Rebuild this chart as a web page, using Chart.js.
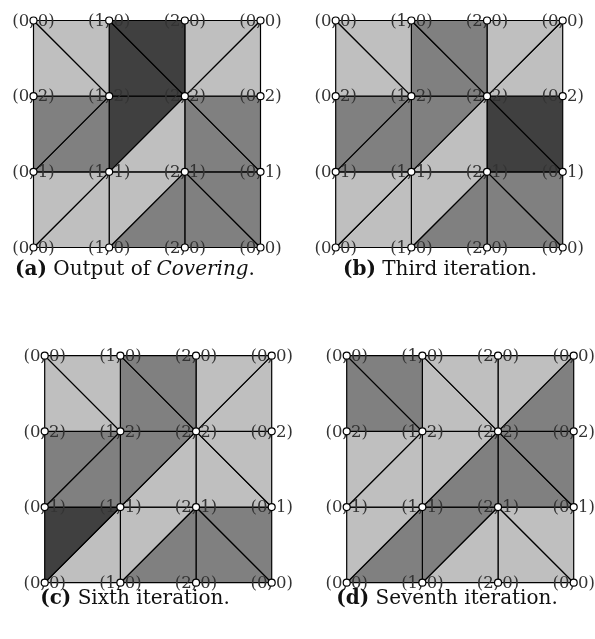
<!DOCTYPE html>
<html>
<head>
<meta charset="utf-8">
<script src="https://cdn.jsdelivr.net/npm/chart.js@4.4.0/dist/chart.umd.min.js"></script>
<style>
  body { margin: 0; background: #fff; width: 595px; height: 639px; position: relative; overflow: hidden; }
  canvas { position: absolute; }
  .cap { position: absolute; font-family: "DejaVu Serif", serif; font-size: 20px; color: #111; white-space: nowrap; transform: translate(-50%, -50%); }
</style>
</head>
<body>
<canvas id="panelA"></canvas>
<canvas id="panelB"></canvas>
<canvas id="panelC"></canvas>
<canvas id="panelD"></canvas>
<div class="cap" style="left:135px; top:268px;"><b>(a)</b> Output of <i>Covering</i>.</div>
<div class="cap" style="left:440px; top:268px;"><b>(b)</b> Third iteration.</div>
<div class="cap" style="left:135px; top:597px;"><b>(c)</b> Sixth iteration.</div>
<div class="cap" style="left:447px; top:597px;"><b>(d)</b> Seventh iteration.</div>
<script>
// vertex labels, columns left to right and rows top to bottom
const xLabels = ['0', '1', '2', '0'];
const yLabels = ['0', '2', '1', '0'];

// diagonal of each cell, row by row from the top
const diagonals = ['\\', '\\', '/', '/', '/', '\\', '/', '/', '\\'];

// shade of each triangle: upper one then lower one, per cell (1 light, 2 mid, 3 dark)
const shadesA = [1, 1, 3, 3, 1, 1, 2, 2, 3, 1, 2, 2, 1, 1, 1, 2, 2, 2];
const shadesB = [1, 1, 2, 2, 1, 1, 2, 2, 2, 1, 3, 3, 1, 1, 1, 2, 2, 2];
const shadesC = [1, 1, 2, 2, 1, 1, 2, 2, 2, 1, 1, 1, 3, 1, 1, 2, 2, 2];
const shadesD = [2, 2, 1, 1, 1, 2, 1, 1, 1, 2, 2, 2, 1, 2, 2, 1, 1, 1];

const greys = { 1: '#bfbfbf', 2: '#808080', 3: '#404040' };
const gridSize = 227;

const vertexLabels = {
    id: 'vertexLabels',
    beforeDatasetDraw(chart, args) {
        if (args.index !== 0) return;
        const ctx = chart.ctx;
        const x = chart.scales.x;
        const y = chart.scales.y;
        ctx.save();
        ctx.font = '16.5px "DejaVu Serif"';
        ctx.fillStyle = '#333';
        ctx.textAlign = 'center';
        ctx.textBaseline = 'middle';
        yLabels.forEach((yl, r) => {
            xLabels.forEach((xl, c) => {
                ctx.fillText('(' + xl + ',\u2009' + yl + ')', x.getPixelForValue(c), y.getPixelForValue(3 - r) + 1);
            });
        });
        ctx.restore();
    }
};

function triangles(shades) {
    const sets = [];
    diagonals.forEach((d, i) => {
        const c = i % 3;
        const r = Math.floor(i / 3);
        const tl = { x: c, y: 3 - r }, tr = { x: c + 1, y: 3 - r };
        const bl = { x: c, y: 2 - r }, br = { x: c + 1, y: 2 - r };
        let upper, lower;
        if (d === '\\') {
            upper = [tl, tr, br];
            lower = [tl, bl, br];
        } else {
            upper = [tl, tr, bl];
            lower = [tr, br, bl];
        }
        [upper, lower].forEach((pts, k) => {
            sets.push({
                data: [...pts, pts[0]],
                showLine: true,
                fill: 'shape',
                backgroundColor: greys[shades[i * 2 + k]],
                borderColor: '#000',
                borderWidth: 1.2,
                pointRadius: 0,
                tension: 0,
                clip: false
            });
        });
    });
    return sets;
}

function vertices() {
    const pts = [];
    yLabels.forEach((yl, r) => {
        xLabels.forEach((xl, c) => {
            pts.push({ x: c, y: 3 - r });
        });
    });
    return pts;
}

function makePanel(id, gridLeft, gridTop, shades) {
    const canvas = document.getElementById(id);
    const w = 300, h = 270;
    const left = Math.round(gridLeft - 30);
    const top = Math.max(0, Math.round(gridTop - 22));
    canvas.width = w;
    canvas.height = h;
    canvas.style.left = left + 'px';
    canvas.style.top = top + 'px';
    const padLeft = gridLeft - left;
    const padTop = gridTop - top;

    new Chart(canvas.getContext('2d'), {
        type: 'scatter',
        data: {
            datasets: [{
                data: vertices(),
                pointRadius: 3.5,
                pointBackgroundColor: '#fff',
                pointBorderColor: '#000',
                pointBorderWidth: 1.2,
                clip: false
            }, ...triangles(shades)]
        },
        options: {
            responsive: false,
            animation: false,
            layout: {
                padding: { left: padLeft, top: padTop, right: w - padLeft - gridSize, bottom: h - padTop - gridSize }
            },
            plugins: { legend: { display: false }, tooltip: { enabled: false } },
            scales: {
                x: { type: 'linear', min: 0, max: 3, display: false },
                y: { type: 'linear', min: 0, max: 3, display: false }
            }
        },
        plugins: [vertexLabels]
    });
}

makePanel('panelA', 33.5, 20.5, shadesA);
makePanel('panelB', 335.7, 20.5, shadesB);
makePanel('panelC', 44.7, 355.7, shadesC);
makePanel('panelD', 346.7, 355.7, shadesD);
</script>
</body>
</html>
